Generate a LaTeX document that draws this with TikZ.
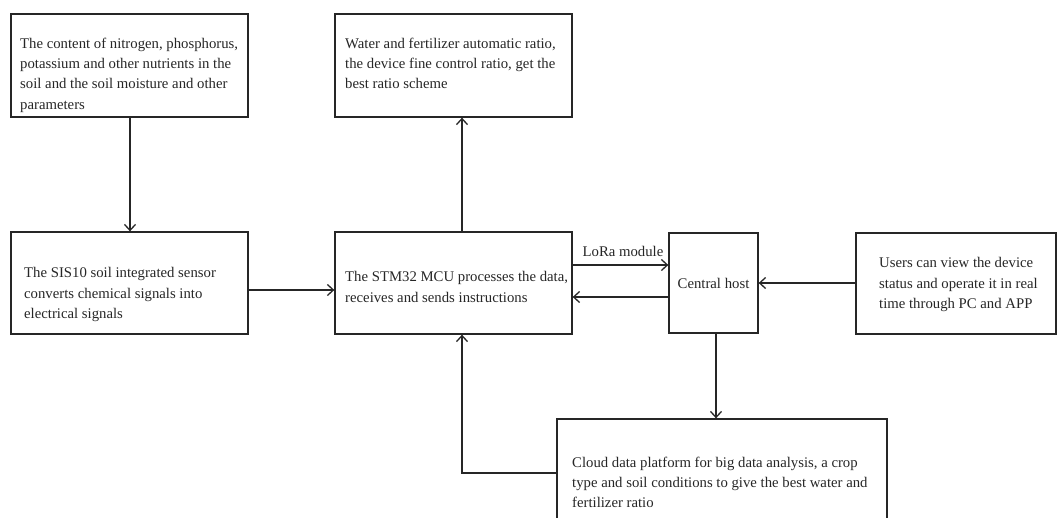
\documentclass[tikz,border=0pt]{standalone}
\usepackage{fontspec}
\setmainfont{Liberation Serif}
\usetikzlibrary{arrows.meta,fit}
\begin{document}
\begin{tikzpicture}[x=1pt,y=-1pt,
  box/.style={draw=black!85, line width=1.3pt, inner sep=0pt, rectangle},
  txt/.style={inner sep=0pt, align=left, anchor=north west, text=black!85,
    font=\fontsize{14.75}{20.4}\selectfont},
  arr/.style={draw=black!85, line width=1.3pt, -{Straight Barb[length=6pt,width=11pt]}}]
\useasboundingbox (0,0) rectangle (1057,517);
% boxes
\node[box, fit={(11,14) (248,117)}] (n1) {};
\node[box, fit={(335,14) (572,117)}] (n2) {};
\node[box, fit={(11,232) (248,334)}] (n3) {};
\node[box, fit={(335,232) (572,334)}] (n4) {};
\node[box, fit={(669,233) (758,333)}] (n5) {};
\node[box, fit={(856,233) (1056,334)}] (n6) {};
\node[box, fit={(557,419) (887,530)}] (n7) {};
% texts
\node[txt] (t1) at (20,37.5) {The content of nitrogen, phosphorus,\\potassium and other nutrients in the\\soil and the soil moisture and other\\parameters};
\node[txt] (t2) at (345,37.5) {Water and fertilizer automatic ratio,\\the device fine control ratio, get the\\best ratio scheme};
\node[txt] (t3) at (24,267.5) {The SIS10 soil integrated sensor\\converts chemical signals into\\electrical signals};
\node[txt] (t4) at (345,271.5) {The STM32 MCU processes the data,\\receives and sends instructions};
\node[txt, anchor=center] (t5) at (n5.center) {Central host};
\node[txt] (t6) at (879,257.5) {Users can view the device\\status and operate it in real\\time through PC and APP};
\node[txt] (t7) at (572,456.5) {Cloud data platform for big data analysis, a crop\\type and soil conditions to give the best water and\\fertilizer ratio};
\node[txt, anchor=base] (lora) at (623,256) {LoRa module};
% helper coordinates
\coordinate (cx0) at (130,0);
\coordinate (cx1) at (462,0);
\coordinate (cx2) at (716,0);
\coordinate (cy1) at (0,290);
\coordinate (cy2) at (0,265);
\coordinate (cy3) at (0,297);
\coordinate (cy0) at (0,283);
\coordinate (cy4) at (0,473);
\coordinate (corner) at (462,473);
% connectors
\draw[arr] (n1.south -| cx0) -- (n3.north -| cx0);
\draw[arr] (n4.north -| cx1) -- (n2.south -| cx1);
\draw[arr] (n3.east |- cy1) -- (n4.west |- cy1);
\draw[arr] (n4.east |- cy2) -- (n5.west |- cy2);
\draw[arr] (n5.west |- cy3) -- (n4.east |- cy3);
\draw[arr] (n6.west |- cy0) -- (n5.east |- cy0);
\draw[arr] (n5.south -| cx2) -- (n7.north -| cx2);
\draw[arr] (n7.west |- cy4) -- (corner) -- (n4.south -| cx1);
\end{tikzpicture}
\end{document}
